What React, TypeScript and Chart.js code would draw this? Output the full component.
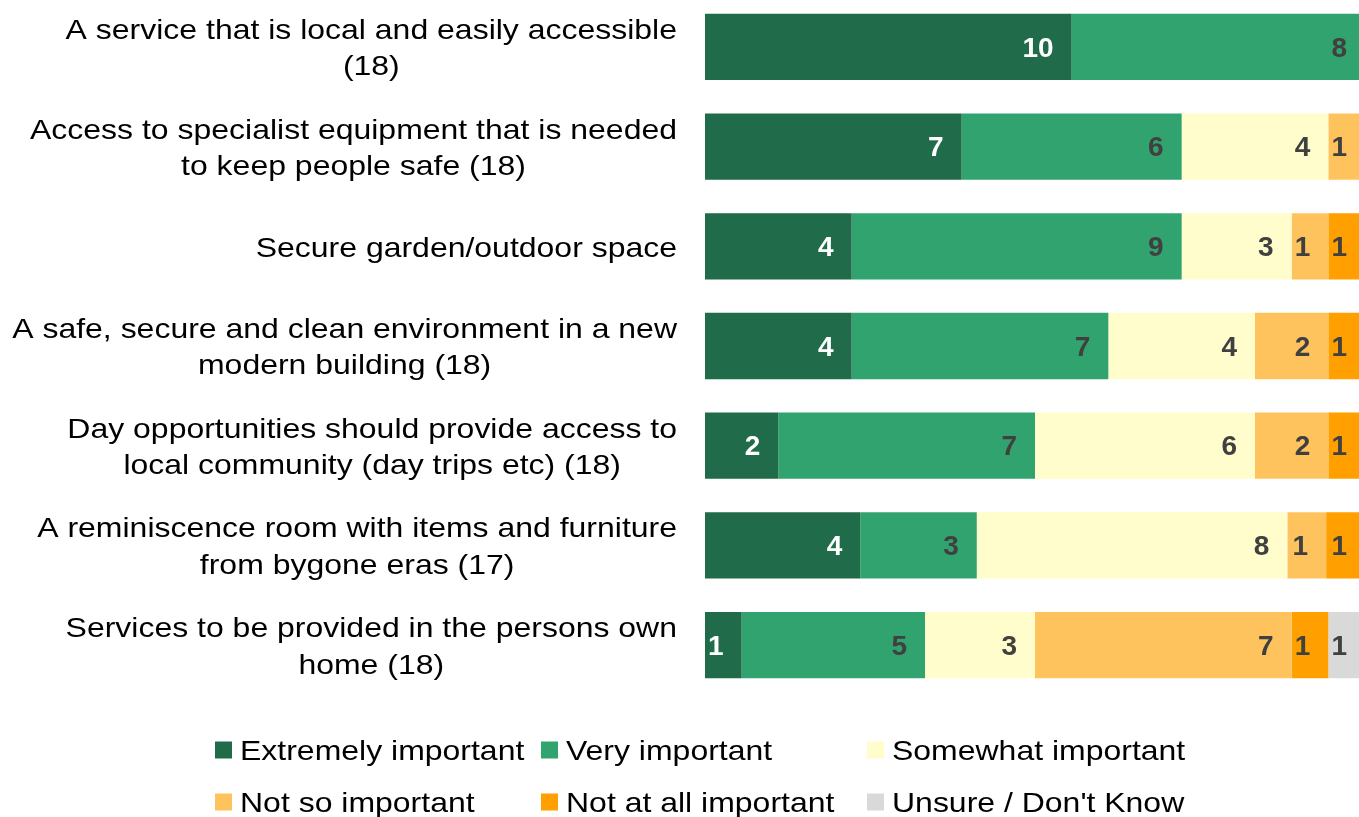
import React, { useEffect, useRef } from "react";
import { Chart, registerables } from "chart.js";

Chart.register(...registerables);

const categories: string[][] = [
  ["A service that is local and easily accessible", "(18)"],
  ["Access to specialist equipment that is needed", "to keep people safe (18)"],
  ["Secure garden/outdoor space"],
  ["A safe, secure and clean environment in a new", "modern building (18)"],
  ["Day opportunities should provide access to", "local community (day trips etc) (18)"],
  ["A reminiscence room with items and furniture", "from bygone eras (17)"],
  ["Services to be provided in the persons own", "home (18)"],
];

const seriesNames = [
  "Extremely important",
  "Very important",
  "Somewhat important",
  "Not so important",
  "Not at all important",
  "Unsure / Don't Know",
];

const extremely = [10, 7, 4, 4, 2, 4, 1];
const very = [8, 6, 9, 7, 7, 3, 5];
const somewhat = [0, 4, 3, 4, 6, 8, 3];
const notSo = [0, 1, 1, 2, 2, 1, 7];
const notAtAll = [0, 0, 1, 1, 1, 1, 1];
const unsure = [0, 0, 0, 0, 0, 0, 1];

const seriesValues = [extremely, very, somewhat, notSo, notAtAll, unsure];
const seriesColors = ["#206B4A", "#31A36F", "#FFFDCB", "#FFC35E", "#FFA000", "#D9D9D9"];
const labelColors = ["#FFFFFF", "#404040", "#404040", "#404040", "#404040", "#404040"];

const FONT = "'Liberation Sans', Arial, sans-serif";
const SX = 1.142;

export default function App() {
  const ref = useRef<HTMLCanvasElement | null>(null);

  useEffect(() => {
    if (!ref.current) return;
    document.body.style.margin = "0";
    const totals = categories.map((_, i) =>
      seriesValues.reduce((s, arr) => s + arr[i], 0)
    );

    const dataLabels = {
      id: "dataLabels",
      afterDatasetsDraw(chart: any) {
        const ctx = chart.ctx;
        ctx.save();
        ctx.font = `bold 28px ${FONT}`;
        ctx.textAlign = "right";
        ctx.textBaseline = "middle";
        chart.data.datasets.forEach((ds: any, di: number) => {
          const meta = chart.getDatasetMeta(di);
          meta.data.forEach((bar: any, i: number) => {
            const raw = seriesValues[di][i];
            if (!raw) return;
            ctx.fillStyle = labelColors[di];
            ctx.fillText(String(raw), bar.x - 18, bar.y + 2);
          });
        });
        ctx.restore();
      },
    };

    const catLabels = {
      id: "catLabels",
      afterDraw(chart: any) {
        const ctx = chart.ctx;
        const y = chart.scales.y;
        const right = 677;
        ctx.save();
        ctx.font = `28px ${FONT}`;
        ctx.fillStyle = "#000000";
        ctx.textAlign = "center";
        ctx.textBaseline = "middle";
        categories.forEach((lines, i) => {
          const cy = y.getPixelForValue(i);
          const maxW = Math.max(...lines.map((l) => ctx.measureText(l).width * SX));
          const cx = right - maxW / 2;
          lines.forEach((line, j) => {
            const ly = cy + (j - (lines.length - 1) / 2) * 36.5 + 2.5;
            ctx.save();
            ctx.translate(cx, ly);
            ctx.scale(SX, 1);
            ctx.fillText(line, 0, 0);
            ctx.restore();
          });
        });

        // legend
        const colX = [215, 541, 867];
        const rowY = [753, 805];
        seriesNames.forEach((name, k) => {
          const c = k % 3;
          const r = Math.floor(k / 3);
          const x = colX[c];
          const yy = rowY[r];
          ctx.fillStyle = seriesColors[k];
          ctx.fillRect(x, yy - 8.5, 17, 17);
          ctx.fillStyle = "#000000";
          ctx.textAlign = "left";
          ctx.save();
          ctx.translate(x + 25, yy + 2.5);
          ctx.scale(SX, 1);
          ctx.fillText(name, 0, 0);
          ctx.restore();
        });
        ctx.restore();
      },
    };

    const chart = new Chart(ref.current, {
      type: "bar",
      data: {
        labels: categories.map((c) => c.join(" ")),
        datasets: seriesNames.map((name, k) => ({
          label: name,
          data: seriesValues[k].map((v, i) => (v / totals[i]) * 100),
          backgroundColor: seriesColors[k],
          borderWidth: 0,
          barPercentage: 0.665,
          categoryPercentage: 1,
        })),
      },
      options: {
        indexAxis: "y",
        responsive: false,
        animation: false,
        layout: { padding: { left: 705, right: 0, top: 0, bottom: 122 } },
        scales: {
          x: { stacked: true, min: 0, max: 100, display: false },
          y: { stacked: true, display: false },
        },
        plugins: {
          legend: { display: false },
          tooltip: { enabled: false },
        },
      },
      plugins: [dataLabels, catLabels],
    });
    return () => chart.destroy();
  }, []);

  return (
    <div
      style={{
        position: "fixed",
        left: 0,
        top: -3,
        width: 1359,
        height: 820,
        overflow: "hidden",
        background: "#ffffff",
      }}
    >
      <canvas ref={ref} width={1365} height={820} style={{ display: "block" }} />
    </div>
  );
}
